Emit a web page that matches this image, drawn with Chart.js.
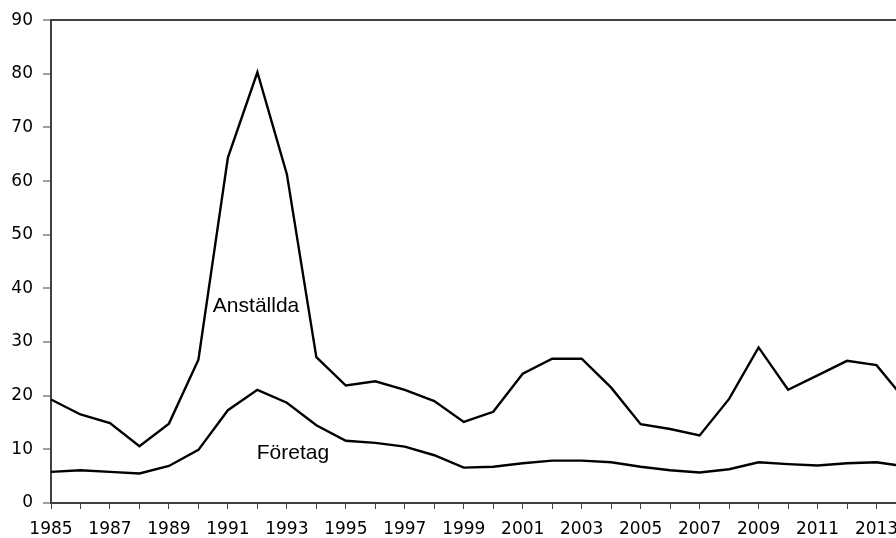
<!DOCTYPE html>
<html lang="sv">
<head>
    <meta charset="UTF-8">
    <title>Anställda och företag</title>
    <style>
        html, body { margin: 0; padding: 0; background: #fff; overflow: hidden; }
        #wrap { width: 930px; height: 538px; }
    </style>
</head>
<body>
    <div id="wrap">
        <canvas id="myChart" width="930" height="538"></canvas>
    </div>

    <script src="https://cdn.jsdelivr.net/npm/chart.js"></script>
    <script>
        // data
        let years = [];
        for (let y = 1985; y <= 2014; y++) years.push(String(y));

        let anstallda = [19.3, 16.5, 14.9, 10.6, 14.8, 26.7, 64.4, 80.3, 61.3, 27.2,
                         21.9, 22.7, 21.1, 19.0, 15.1, 17.0, 24.1, 26.9, 26.9, 21.5,
                         14.7, 13.8, 12.6, 19.4, 29.0, 21.1, 23.8, 26.5, 25.7, 19.0];
        let foretag = [5.8, 6.1, 5.8, 5.5, 6.9, 9.9, 17.3, 21.1, 18.7, 14.5,
                       11.6, 11.2, 10.5, 8.9, 6.6, 6.75, 7.4, 7.9, 7.9, 7.6,
                       6.75, 6.1, 5.7, 6.3, 7.6, 7.25, 7.0, 7.4, 7.6, 6.8];
        let yTicks = [0, 10, 20, 30, 40, 50, 60, 70, 80, 90];

        const axisColor = '#404040';

        // series names written inside the plot
        const seriesLabels = {
            id: 'seriesLabels',
            afterDatasetsDraw(chart) {
                const x = chart.scales.x, y = chart.scales.y, c = chart.ctx;
                c.save();
                c.font = '21px "Liberation Sans", Arial, sans-serif';
                c.fillStyle = '#000';
                c.textBaseline = 'middle';
                c.textAlign = 'left';
                c.fillText('Anställda', x.getPixelForValue(5.49), y.getPixelForValue(36.6));
                c.fillText('Företag', x.getPixelForValue(6.98), y.getPixelForValue(9.3));
                c.restore();
            }
        };

        Chart.defaults.font.family = '"DejaVu Sans", Verdana, sans-serif';
        Chart.defaults.font.size = 17;
        Chart.defaults.color = '#000';

        const ctx = document.getElementById('myChart');

        let chart = new Chart(ctx, {
            type: 'line',
            data: {
                labels: years,
                datasets: [
                    { label: 'Anställda', data: anstallda },
                    { label: 'Företag', data: foretag }
                ]
            },
            options: {
                responsive: false,
                animation: false,
                layout: { padding: { top: 19, right: 24, left: 0, bottom: 0 } },
                elements: {
                    line: { borderColor: '#000', borderWidth: 2.4, tension: 0, fill: false },
                    point: { radius: 0, hoverRadius: 0 }
                },
                plugins: { legend: { display: false }, tooltip: { enabled: false } },
                scales: {
                    x: {
                        type: 'category',
                        offset: false,
                        afterFit: s => { s.height = 35; },
                        border: { color: axisColor, width: 2 },
                        grid: {
                            drawOnChartArea: false,
                            tickLength: 6,
                            tickColor: axisColor,
                            tickWidth: 1,
                            offset: false
                        },
                        ticks: {
                            autoSkip: false,
                            maxRotation: 0,
                            padding: 10,
                            callback: (v, i) => (i % 2 === 0 ? years[i] : '')
                        }
                    },
                    y: {
                        min: 0,
                        max: 90,
                        afterFit: s => { s.width = 51; },
                        afterBuildTicks: s => { s.ticks = yTicks.map(v => ({ value: v })); },
                        border: { color: axisColor, width: 2 },
                        grid: {
                            color: c => (c.tick && c.tick.value === 90 ? axisColor : 'transparent'),
                            lineWidth: 2,
                            tickLength: 8,
                            tickColor: axisColor,
                            tickWidth: 1
                        },
                        ticks: { padding: 10 }
                    }
                }
            },
            plugins: [seriesLabels]
        });
    </script>
</body>
</html>
